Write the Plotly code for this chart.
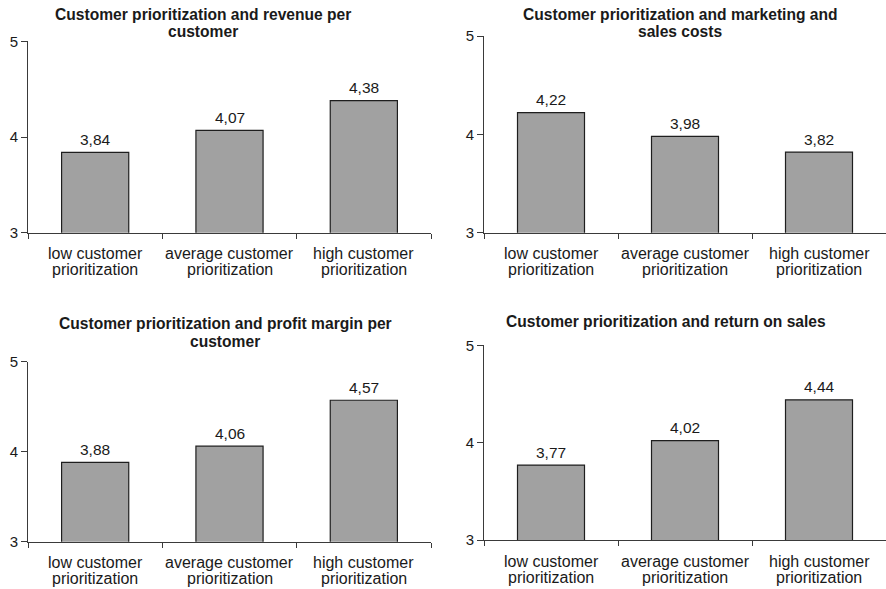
import plotly.graph_objects as go

# ---- data -------------------------------------------------------------
categories = ["low customer prioritization",
              "average customer prioritization",
              "high customer prioritization"]
cat_line1 = ["low customer", "average customer", "high customer"]
cat_line2 = ["prioritization", "prioritization", "prioritization"]

revenue_per_customer = [3.84, 4.07, 4.38]
marketing_sales_costs = [4.22, 3.98, 3.82]
profit_margin_per_customer = [3.88, 4.06, 4.57]
return_on_sales = [3.77, 4.02, 4.44]

titles = [
    ["Customer prioritization and revenue per", "customer"],
    ["Customer prioritization and marketing and", "sales costs"],
    ["Customer prioritization and profit margin per", "customer"],
    ["Customer prioritization and return on sales"],
]
y_ticks = [3, 4, 5]
y_range = [3, 5]

# ---- layout helpers ---------------------------------------------------
W, H = 886, 589
FONT = "Liberation Sans, Arial, sans-serif"
AXIS_COLOR = "#3a3a3a"
BAR_FILL = "#a1a1a1"
BAR_LINE = "#1e1e1e"
TEXT = "#1a1a1a"


def fx(x):
    return x / W


def fy(y):
    return 1 - y / H


def fmt(v):
    return f"{v:.2f}".replace(".", ",")


# panel geometry in pixels: x-left, x-right, y at value 3, y at value 5
panels = [
    dict(values=revenue_per_customer, x0=28, x1=431, yb=232.7, yt=41.3,
         title_x=203, title_y=[14, 32]),
    dict(values=marketing_sales_costs, x0=484, x1=886, yb=232.7, yt=36.0,
         title_x=680, title_y=[14, 32]),
    dict(values=profit_margin_per_customer, x0=28, x1=431, yb=541.7, yt=361.5,
         title_x=225, title_y=[323, 341]),
    dict(values=return_on_sales, x0=484, x1=886, yb=540.0, yt=345.3,
         title_x=666, title_y=[321]),
]

fig = go.Figure()
annotations = []

for i, p in enumerate(panels):
    n = "" if i == 0 else str(i + 1)
    xa, ya = "x" + n, "y" + n

    fig.add_trace(go.Bar(
        x=categories, y=p["values"], xaxis=xa, yaxis=ya,
        width=0.5,
        marker=dict(color=BAR_FILL, line=dict(color=BAR_LINE, width=1.2)),
        showlegend=False, hoverinfo="skip",
    ))

    fig.update_layout({
        "xaxis" + n: dict(
            domain=[fx(p["x0"]), fx(p["x1"])],
            anchor=ya, type="category", range=[-0.5, 2.5],
            showline=True, linecolor=AXIS_COLOR, linewidth=1,
            ticks="outside", tickson="boundaries", ticklen=5,
            tickcolor=AXIS_COLOR, showticklabels=False,
            showgrid=False, zeroline=False, fixedrange=True,
            automargin=False,
        ),
        "yaxis" + n: dict(
            domain=[fy(p["yb"]), fy(p["yt"])],
            anchor=xa, range=y_range, tickvals=y_ticks,
            showline=True, linecolor=AXIS_COLOR, linewidth=1,
            ticks="outside", ticklen=6, tickcolor=AXIS_COLOR,
            tickfont=dict(family=FONT, size=15, color=TEXT),
            showgrid=False, zeroline=False, fixedrange=True,
            automargin=False,
        ),
    })

    # value labels above each bar
    for c, v in zip(categories, p["values"]):
        annotations.append(dict(
            x=c, xref=xa, y=v, yref=ya, yshift=2.5,
            text=fmt(v), showarrow=False, xanchor="center", yanchor="bottom",
            font=dict(family=FONT, size=15.5, color=TEXT),
        ))

    # two-line category labels under each bar
    for c, l1, l2 in zip(categories, cat_line1, cat_line2):
        for txt, shift in ((l1, -21), (l2, -37)):
            annotations.append(dict(
                x=c, xref=xa, y=0, yref=ya + " domain", yshift=shift,
                text=txt, showarrow=False, xanchor="center", yanchor="middle",
                font=dict(family=FONT, size=16, color=TEXT),
            ))

    # panel title
    for txt, ty in zip(titles[i], p["title_y"]):
        annotations.append(dict(
            x=fx(p["title_x"]), xref="paper", y=fy(ty), yref="paper",
            text="<b>" + txt + "</b>", showarrow=False,
            xanchor="center", yanchor="middle",
            font=dict(family=FONT, size=15.6, color=TEXT),
        ))

fig.update_layout(
    width=W, height=H,
    margin=dict(l=0, r=0, t=0, b=0, pad=0, autoexpand=False),
    paper_bgcolor="white", plot_bgcolor="white",
    showlegend=False,
    annotations=annotations,
)

fig.write_html("out.html")
